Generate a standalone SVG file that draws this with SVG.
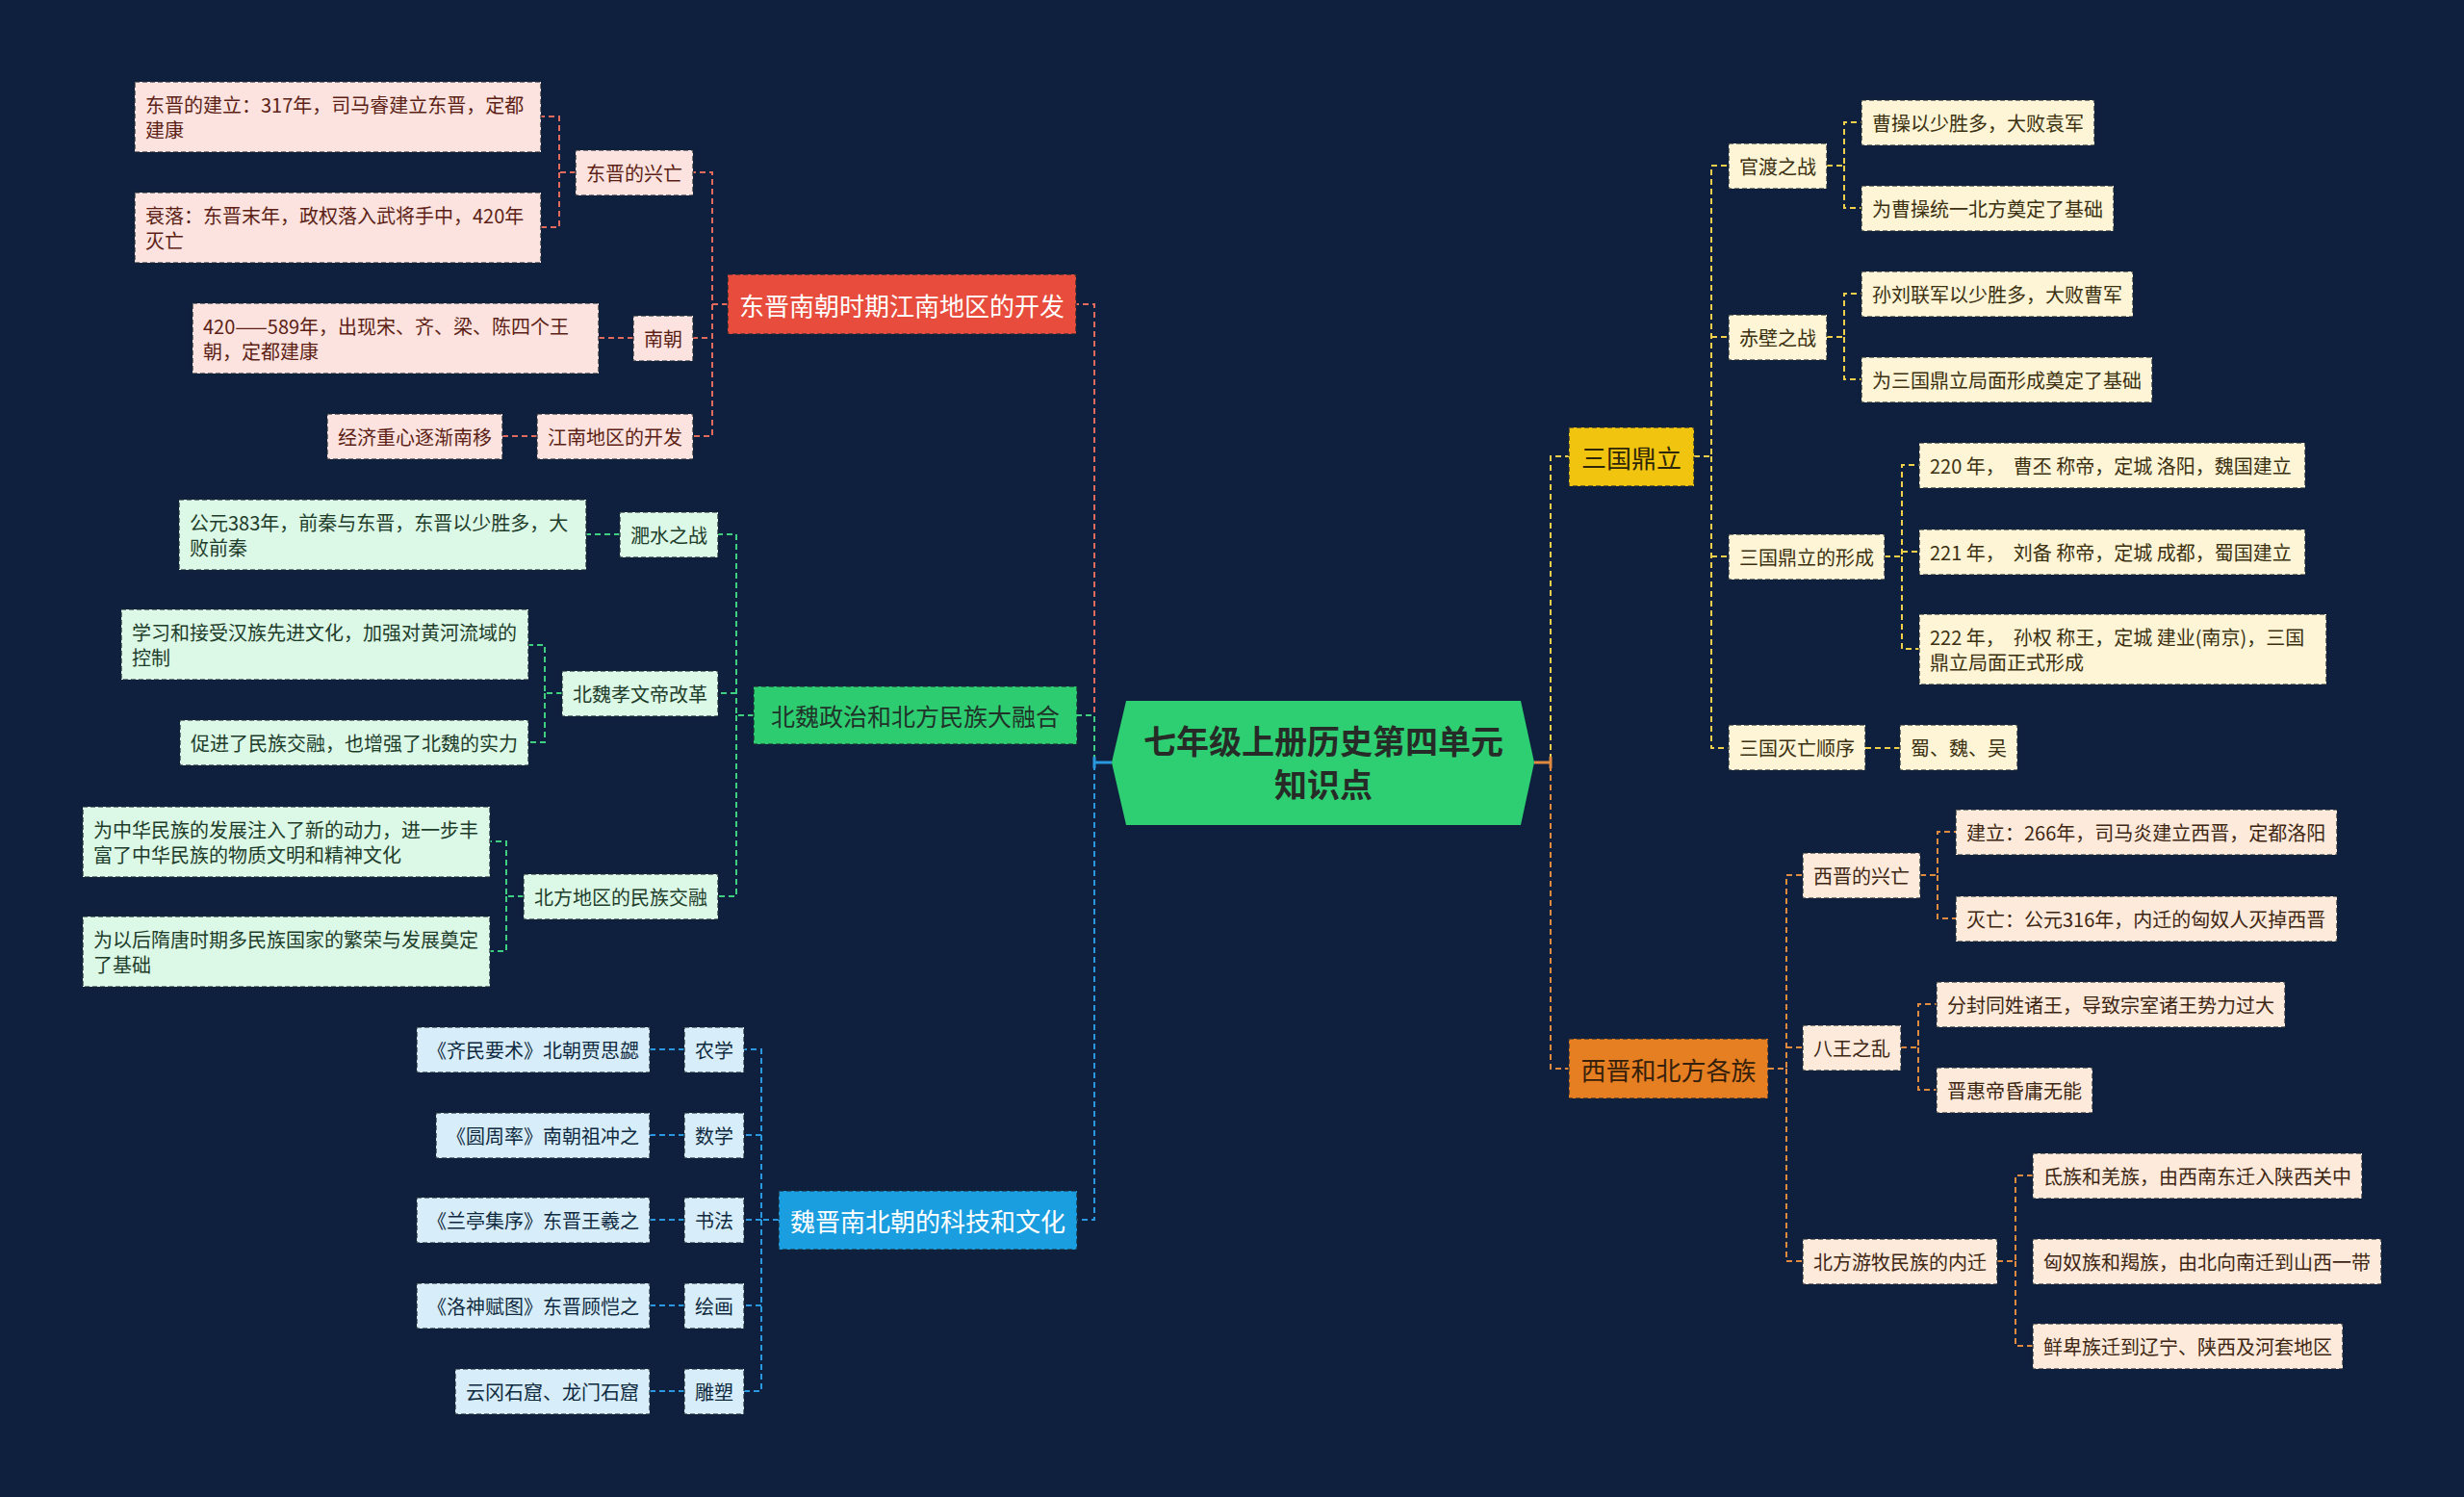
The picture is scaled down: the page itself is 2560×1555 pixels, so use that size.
<svg xmlns="http://www.w3.org/2000/svg" width="2560" height="1555" viewBox="0 0 2560 1555">
<style>
text{font-family:"Noto Sans CJK SC","Noto Sans",sans-serif;dominant-baseline:central}
.t{font-size:20px}
.tm{font-size:26px}
.bx{stroke:#1a2533;stroke-opacity:.75;stroke-width:1.6;stroke-dasharray:5 3}
.c{fill:none;stroke-width:2;stroke-dasharray:6 4}
.cr{stroke:#e06a5c}.cg{stroke:#3fcf80}.cb{stroke:#2a98e0}.cy{stroke:#f0cf4a}.co{stroke:#e08a40}
.lr{fill:#fde3df}.lg{fill:#dcf8e7}.lb{fill:#d7eefa}.ly{fill:#fdf5d6}.lo{fill:#fdeadb}
.xr{fill:#5c1f16}.xg{fill:#1d3d2a}.xb{fill:#0f2a40}.xy{fill:#3b3010}.xo{fill:#3d2612}
</style>
<rect width="2560" height="1555" fill="#0e203d"/>
<g id="connectors">
<path class="c cr" d="M1155 792H1137V316H1118"/>
<path class="c cg" d="M1155 792H1137V743H1119"/>
<path class="c cb" d="M1155 792H1137V1267H1119"/>
<path class="c cy" d="M1594 792H1611V474H1760"/>
<path class="c co" d="M1594 792H1611V1110H1837"/>
<path d="M1137 792H1155M1137 786V798" stroke="#2a98e0" stroke-width="3" fill="none"/>
<path d="M1594 792H1611M1611 786V798" stroke="#e08a40" stroke-width="3" fill="none"/>
<path class="c cr" d="M756 316H740V179H720M740 316V453H720"/>
<path class="c cr" d="M740 316V351H720"/>
<path class="c cr" d="M598 179H581V121H562M581 179V236H562"/>
<path class="c cr" d="M658 351H622"/>
<path class="c cr" d="M558 453H522"/>
<path class="c cg" d="M783 743H765V555H746M765 743V931H746M765 720H746"/>
<path class="c cg" d="M644 555H609"/>
<path class="c cg" d="M584 720H566V670H549M566 720V771H549"/>
<path class="c cg" d="M544 931H526V874H509M526 931V988H509"/>
<path class="c cb" d="M809 1267H791V1090H773M791 1267V1445H773M791 1179H773M791 1267H773M791 1356H773"/>
<path class="c cb" d="M711 1090H675M711 1179H675M711 1267H675M711 1356H675M711 1445H675"/>
<path class="c cy" d="M1760 474H1778V172H1796M1778 474V777H1796M1778 350H1796M1778 578H1796"/>
<path class="c cy" d="M1898 172H1916V127H1934M1916 172V216H1934"/>
<path class="c cy" d="M1898 350H1916V305H1934M1916 350V394H1934"/>
<path class="c cy" d="M1958 578H1976V483H1994M1976 578V674H1994M1976 573H1994"/>
<path class="c cy" d="M1938 777H1974"/>
<path class="c co" d="M1837 1110H1856V909H1873M1856 1110V1310H1873M1856 1088H1873"/>
<path class="c co" d="M1995 909H2013V864H2032M2013 909V954H2032"/>
<path class="c co" d="M1975 1088H1993V1043H2012M1993 1088V1132H2012"/>
<path class="c co" d="M2075 1310H2094V1221H2112M2094 1310V1398H2112"/>
</g>
<g id="center">
<polygon points="1170,728 1580,728 1594,792 1580,857 1170,857 1155,792" fill="#2ecf72"/>
<text x="1375" y="768" text-anchor="middle" font-size="34" font-weight="bold" fill="#262b27">七年级上册历史第四单元</text>
<text x="1375" y="813" text-anchor="middle" font-size="34" font-weight="bold" fill="#262b27">知识点</text>
</g>
<g id="n-red">
<rect class="bx" x="756" y="285" width="362" height="62" fill="#e74c3c"/>
<text class="tm" x="937" y="316" text-anchor="middle" fill="#ffffff">东晋南朝时期江南地区的开发</text>
</g>
<g id="n-r1"><rect class="bx lr" x="598" y="156" width="122" height="47"/><text class="t xr" x="659" y="179.5" text-anchor="middle">东晋的兴亡</text></g>
<g id="n-r1a"><rect class="bx lr" x="140" y="85" width="422" height="73"/><text class="t xr" x="151" y="108.5">东晋的建立：317年，司马睿建立东晋，定都</text><text class="t xr" x="151" y="134.5">建康</text></g>
<g id="n-r1b"><rect class="bx lr" x="140" y="200" width="422" height="73"/><text class="t xr" x="151" y="223.5">衰落：东晋末年，政权落入武将手中，420年</text><text class="t xr" x="151" y="249.5">灭亡</text></g>
<g id="n-r2"><rect class="bx lr" x="658" y="328" width="62" height="47"/><text class="t xr" x="689" y="351.5" text-anchor="middle">南朝</text></g>
<g id="n-r2a"><rect class="bx lr" x="200" y="315" width="422" height="73"/><text class="t xr" x="211" y="338.5">420——589年，出现宋、齐、梁、陈四个王</text><text class="t xr" x="211" y="364.5">朝，定都建康</text></g>
<g id="n-r3"><rect class="bx lr" x="558" y="430" width="162" height="47"/><text class="t xr" x="639" y="453.5" text-anchor="middle">江南地区的开发</text></g>
<g id="n-r3a"><rect class="bx lr" x="340" y="430" width="182" height="47"/><text class="t xr" x="431" y="453.5" text-anchor="middle">经济重心逐渐南移</text></g>
<g id="n-green">
<rect class="bx" x="783" y="713" width="336" height="60" fill="#2ecc71"/>
<text x="951" y="743" text-anchor="middle" font-size="25" fill="#1f3329">北魏政治和北方民族大融合</text>
</g>
<g id="n-g1"><rect class="bx lg" x="644" y="532" width="102" height="47"/><text class="t xg" x="695" y="555.5" text-anchor="middle">淝水之战</text></g>
<g id="n-g1a"><rect class="bx lg" x="186" y="519" width="423" height="73"/><text class="t xg" x="197" y="542.5">公元383年，前秦与东晋，东晋以少胜多，大</text><text class="t xg" x="197" y="568.5">败前秦</text></g>
<g id="n-g2"><rect class="bx lg" x="584" y="697" width="162" height="47"/><text class="t xg" x="665" y="720.5" text-anchor="middle">北魏孝文帝改革</text></g>
<g id="n-g2a"><rect class="bx lg" x="126" y="633" width="423" height="73"/><text class="t xg" x="137" y="656.5">学习和接受汉族先进文化，加强对黄河流域的</text><text class="t xg" x="137" y="682.5">控制</text></g>
<g id="n-g2b"><rect class="bx lg" x="187" y="748" width="362" height="47"/><text class="t xg" x="198" y="771.5">促进了民族交融，也增强了北魏的实力</text></g>
<g id="n-g3"><rect class="bx lg" x="544" y="908" width="202" height="47"/><text class="t xg" x="645" y="931.5" text-anchor="middle">北方地区的民族交融</text></g>
<g id="n-g3a"><rect class="bx lg" x="86" y="838" width="423" height="73"/><text class="t xg" x="97" y="861.5">为中华民族的发展注入了新的动力，进一步丰</text><text class="t xg" x="97" y="887.5">富了中华民族的物质文明和精神文化</text></g>
<g id="n-g3b"><rect class="bx lg" x="86" y="952" width="423" height="73"/><text class="t xg" x="97" y="975.5">为以后隋唐时期多民族国家的繁荣与发展奠定</text><text class="t xg" x="97" y="1001.5">了基础</text></g>
<g id="n-blue">
<rect class="bx" x="809" y="1237" width="310" height="61" fill="#1a9ee0"/>
<text class="tm" x="964" y="1267.5" text-anchor="middle" fill="#ffffff">魏晋南北朝的科技和文化</text>
</g>
<g id="n-b1"><rect class="bx lb" x="711" y="1067" width="62" height="47"/><text class="t xb" x="742" y="1090.5" text-anchor="middle">农学</text></g>
<g id="n-b1a"><rect class="bx lb" x="433" y="1067" width="242" height="47"/><text class="t xb" x="554" y="1090.5" text-anchor="middle">《齐民要术》北朝贾思勰</text></g>
<g id="n-b2"><rect class="bx lb" x="711" y="1156" width="62" height="47"/><text class="t xb" x="742" y="1179.5" text-anchor="middle">数学</text></g>
<g id="n-b2a"><rect class="bx lb" x="453" y="1156" width="222" height="47"/><text class="t xb" x="564" y="1179.5" text-anchor="middle">《圆周率》南朝祖冲之</text></g>
<g id="n-b3"><rect class="bx lb" x="711" y="1244" width="62" height="47"/><text class="t xb" x="742" y="1267.5" text-anchor="middle">书法</text></g>
<g id="n-b3a"><rect class="bx lb" x="433" y="1244" width="242" height="47"/><text class="t xb" x="554" y="1267.5" text-anchor="middle">《兰亭集序》东晋王羲之</text></g>
<g id="n-b4"><rect class="bx lb" x="711" y="1333" width="62" height="47"/><text class="t xb" x="742" y="1356.5" text-anchor="middle">绘画</text></g>
<g id="n-b4a"><rect class="bx lb" x="433" y="1333" width="242" height="47"/><text class="t xb" x="554" y="1356.5" text-anchor="middle">《洛神赋图》东晋顾恺之</text></g>
<g id="n-b5"><rect class="bx lb" x="711" y="1422" width="62" height="47"/><text class="t xb" x="742" y="1445.5" text-anchor="middle">雕塑</text></g>
<g id="n-b5a"><rect class="bx lb" x="473" y="1422" width="202" height="47"/><text class="t xb" x="574" y="1445.5" text-anchor="middle">云冈石窟、龙门石窟</text></g>
<g id="n-yellow">
<rect class="bx" x="1630" y="444" width="130" height="61" fill="#f1c40f"/>
<text class="tm" x="1695" y="474.5" text-anchor="middle" fill="#2e2608">三国鼎立</text>
</g>
<g id="n-y1"><rect class="bx ly" x="1796" y="149" width="102" height="47"/><text class="t xy" x="1847" y="172.5" text-anchor="middle">官渡之战</text></g>
<g id="n-y1a"><rect class="bx ly" x="1934" y="104" width="242" height="47"/><text class="t xy" x="1945" y="127.5">曹操以少胜多，大败袁军</text></g>
<g id="n-y1b"><rect class="bx ly" x="1934" y="193" width="262" height="47"/><text class="t xy" x="1945" y="216.5">为曹操统一北方奠定了基础</text></g>
<g id="n-y2"><rect class="bx ly" x="1796" y="327" width="102" height="47"/><text class="t xy" x="1847" y="350.5" text-anchor="middle">赤壁之战</text></g>
<g id="n-y2a"><rect class="bx ly" x="1934" y="282" width="282" height="47"/><text class="t xy" x="1945" y="305.5">孙刘联军以少胜多，大败曹军</text></g>
<g id="n-y2b"><rect class="bx ly" x="1934" y="371" width="302" height="47"/><text class="t xy" x="1945" y="394.5">为三国鼎立局面形成奠定了基础</text></g>
<g id="n-y3"><rect class="bx ly" x="1796" y="555" width="162" height="47"/><text class="t xy" x="1877" y="578.5" text-anchor="middle">三国鼎立的形成</text></g>
<g id="n-y3a"><rect class="bx ly" x="1994" y="460" width="401" height="47"/><text class="t xy" x="2005" y="483.5" xml:space="preserve">220 年，  曹丕 称帝，定城 洛阳，魏国建立</text></g>
<g id="n-y3b"><rect class="bx ly" x="1994" y="550" width="401" height="47"/><text class="t xy" x="2005" y="573.5" xml:space="preserve">221 年，  刘备 称帝，定城 成都，蜀国建立</text></g>
<g id="n-y3c"><rect class="bx ly" x="1994" y="638" width="423" height="73"/><text class="t xy" x="2005" y="661.5" xml:space="preserve">222 年，  孙权 称王，定城 建业(南京)，三国</text><text class="t xy" x="2005" y="687.5">鼎立局面正式形成</text></g>
<g id="n-y4"><rect class="bx ly" x="1796" y="753" width="142" height="47"/><text class="t xy" x="1867" y="776.5" text-anchor="middle">三国灭亡顺序</text></g>
<g id="n-y4a"><rect class="bx ly" x="1974" y="753" width="122" height="47"/><text class="t xy" x="2035" y="776.5" text-anchor="middle">蜀、魏、吴</text></g>
<g id="n-orange">
<rect class="bx" x="1630" y="1079" width="207" height="62" fill="#e67e22"/>
<text class="tm" x="1733.5" y="1110" text-anchor="middle" fill="#35200c">西晋和北方各族</text>
</g>
<g id="n-o1"><rect class="bx lo" x="1873" y="886" width="122" height="47"/><text class="t xo" x="1934" y="909.5" text-anchor="middle">西晋的兴亡</text></g>
<g id="n-o1a"><rect class="bx lo" x="2032" y="841" width="396" height="47"/><text class="t xo" x="2043" y="864.5">建立：266年，司马炎建立西晋，定都洛阳</text></g>
<g id="n-o1b"><rect class="bx lo" x="2032" y="931" width="396" height="47"/><text class="t xo" x="2043" y="954.5">灭亡：公元316年，内迁的匈奴人灭掉西晋</text></g>
<g id="n-o2"><rect class="bx lo" x="1873" y="1065" width="102" height="47"/><text class="t xo" x="1924" y="1088.5" text-anchor="middle">八王之乱</text></g>
<g id="n-o2a"><rect class="bx lo" x="2012" y="1020" width="362" height="47"/><text class="t xo" x="2023" y="1043.5">分封同姓诸王，导致宗室诸王势力过大</text></g>
<g id="n-o2b"><rect class="bx lo" x="2012" y="1109" width="162" height="47"/><text class="t xo" x="2023" y="1132.5">晋惠帝昏庸无能</text></g>
<g id="n-o3"><rect class="bx lo" x="1873" y="1287" width="202" height="47"/><text class="t xo" x="1974" y="1310.5" text-anchor="middle">北方游牧民族的内迁</text></g>
<g id="n-o3a"><rect class="bx lo" x="2112" y="1198" width="342" height="47"/><text class="t xo" x="2123" y="1221.5">氐族和羌族，由西南东迁入陕西关中</text></g>
<g id="n-o3b"><rect class="bx lo" x="2112" y="1287" width="362" height="47"/><text class="t xo" x="2123" y="1310.5">匈奴族和羯族，由北向南迁到山西一带</text></g>
<g id="n-o3c"><rect class="bx lo" x="2112" y="1375" width="322" height="47"/><text class="t xo" x="2123" y="1398.5">鲜卑族迁到辽宁、陕西及河套地区</text></g>
</svg>
